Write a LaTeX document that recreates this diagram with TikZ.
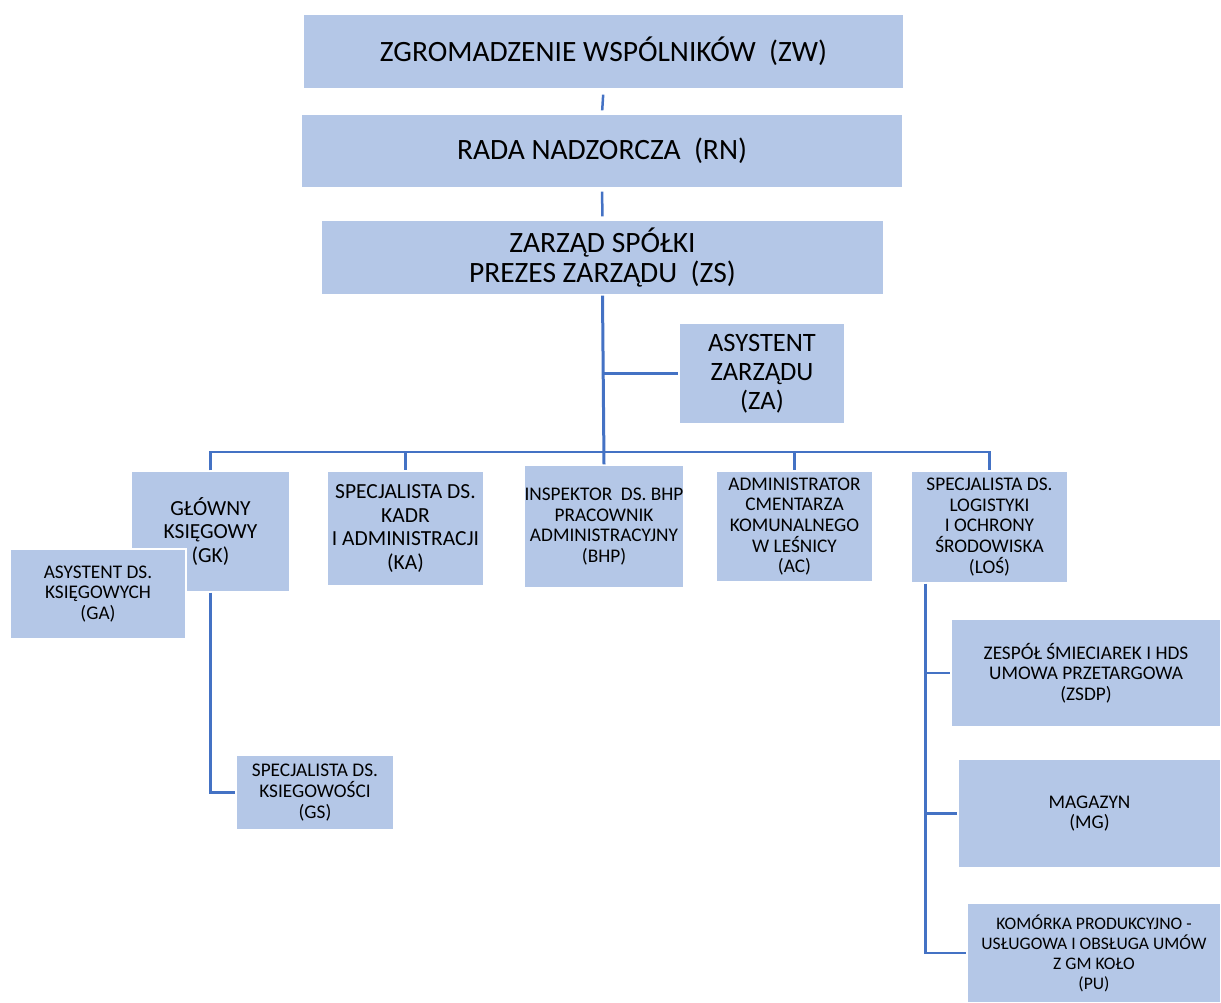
\documentclass[tikz,border=0pt]{standalone}
\usepackage{fontspec}
\setmainfont{Carlito}
\usepackage{tikz}
\usetikzlibrary{positioning}
\definecolor{boxblue}{HTML}{B4C7E7}
\definecolor{lineblue}{HTML}{4472C4}
\tikzstyle{unit} = [fill=boxblue, draw=white, line width=1.2pt, align=center, inner sep=0pt, text=black]
\tikzstyle{big unit} = [unit, font=\fontsize{29.5}{30}\selectfont]
\tikzstyle{mid unit} = [unit, font=\fontsize{26.5}{29}\selectfont]
\tikzstyle{small unit} = [unit, font=\fontsize{21.5}{23.5}\selectfont]
\tikzstyle{tiny unit} = [unit, font=\fontsize{19.3}{20.7}\selectfont]
\tikzstyle{link} = [draw=lineblue, line width=2.5pt]

\begin{document}
\begin{tikzpicture}[x=1pt, y=-1pt]
        \useasboundingbox (0,0) rectangle (1221,1003);
        % zarzad i rada
        \node[big unit, minimum width=601, minimum height=75] (zw) at (603.5,51.5) {ZGROMADZENIE WSPÓLNIKÓW\ \ (ZW)};
        \node[big unit, minimum width=602, minimum height=74] (rn) at (602,151) {RADA NADZORCZA\ \ (RN)};
        \node[big unit, minimum width=563, minimum height=75] (zs) at (602.5,257.5) {ZARZĄD SPÓŁKI\\PREZES ZARZĄDU\ \ (ZS)};
        \node[mid unit, minimum width=166, minimum height=101] (za) at (762,373.5) {ASYSTENT\\ZARZĄDU\\(ZA)};
        % dzialy
        \node[small unit, minimum width=159, minimum height=121] (gk) at (210.5,531.5) {GŁÓWNY\\KSIĘGOWY\\(GK)};
        \node[small unit, minimum width=157, minimum height=115] (ka) at (405.5,528.5) {SPECJALISTA DS.\\KADR\\I ADMINISTRACJI\\(KA)};
        \node[tiny unit, minimum width=158, minimum height=123] (bhp) at (604,526.5) {INSPEKTOR\ \ DS. BHP\\PRACOWNIK\\ADMINISTRACYJNY\\(BHP)};
        \node[tiny unit, minimum width=157, minimum height=111] (ac) at (794.5,526.5) {ADMINISTRATOR\\CMENTARZA\\KOMUNALNEGO\\W LEŚNICY\\(AC)};
        \node[tiny unit, minimum width=157, minimum height=112] (los) at (989.5,527) {SPECJALISTA DS.\\LOGISTYKI\\I OCHRONY\\ŚRODOWISKA\\(LOŚ)};
        \node[tiny unit, minimum width=158, minimum height=75] (gs) at (315,792.5) {SPECJALISTA DS.\\KSIEGOWOŚCI\\(GS)};
        % logistyka
        \node[tiny unit, minimum width=270, minimum height=108] (zsdp) at (1086,673) {ZESPÓŁ ŚMIECIAREK I HDS\\UMOWA PRZETARGOWA\\(ZSDP)};
        \node[tiny unit, minimum width=263, minimum height=109] (mg) at (1089.5,813.5) {MAGAZYN\\(MG)};
        \node[tiny unit, font=\fontsize{17.6}{20}\selectfont, minimum width=254, minimum height=100] (pu) at (1094,953) {KOMÓRKA PRODUKCYJNO -\\USŁUGOWA I OBSŁUGA UMÓW\\Z GM KOŁO\\(PU)};

        \coordinate (bus) at (603,452);
        \coordinate (losb) at ([xshift=15]los.south west);

        \draw[link, shorten <=5, shorten >=3] (zw.south) -- (rn.north);
        \draw[link, shorten <=3, shorten >=3] (rn.south) -- (zs.north);
        \draw[link, line width=3pt] (zs.south) -- (bhp.north);
        \draw[link] (zs.south |- za.west) -- (za.west);
        \draw[link] (gk.north) -- (gk.north |- bus) -- (los.north |- bus) -- (los.north);
        \draw[link] (ka.north |- bus) -- (ka.north);
        \draw[link] (ac.north |- bus) -- (ac.north);
        \draw[link] (gk.south) |- (gs.west);
        \draw[link] (losb) |- (pu.west);
        \draw[link] (losb |- zsdp.west) -- (zsdp.west);
        \draw[link] (losb |- mg.west) -- (mg.west);

        % asystent nad glownym ksiegowym
        \node[tiny unit, minimum width=176, minimum height=90] (ga) at (98,594) {ASYSTENT DS.\\KSIĘGOWYCH\\(GA)};
    \end{tikzpicture}
\end{document}
